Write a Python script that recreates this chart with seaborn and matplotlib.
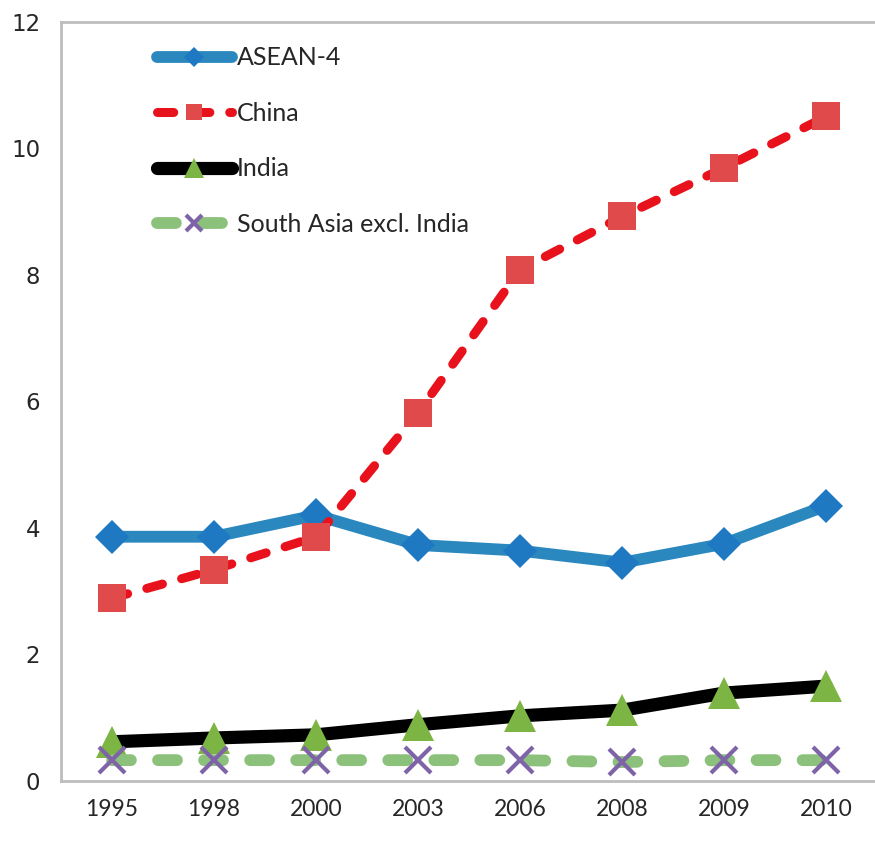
import matplotlib
matplotlib.use("Agg")
import matplotlib.pyplot as plt
import seaborn as sns
import pandas as pd
from matplotlib.legend_handler import HandlerTuple

# -----------------------------------
# Data
# -----------------------------------
years = ["1995", "1998", "2000", "2003", "2006", "2008", "2009", "2010"]
asean4 = [3.86, 3.86, 4.20, 3.73, 3.64, 3.45, 3.75, 4.35]
china = [2.89, 3.34, 3.86, 5.82, 8.08, 8.92, 9.69, 10.50]
india = [0.62, 0.68, 0.73, 0.89, 1.03, 1.12, 1.39, 1.50]
south_asia = [0.33, 0.33, 0.33, 0.33, 0.33, 0.30, 0.33, 0.33]
y_ticks = [0, 2, 4, 6, 8, 10, 12]

sns.set_style("white")
plt.rcParams["font.family"] = ["Lato", "DejaVu Sans"]

fig = plt.figure(figsize=(8.75, 8.42), dpi=100)
ax = fig.add_axes([0.0697, 0.0724, 0.933, 0.902])

df = pd.DataFrame({"year": years, "ASEAN-4": asean4, "China": china,
                   "India": india, "South Asia excl. India": south_asia})

# name, line colour, line style, line width, marker, marker face, marker edge, marker size, edge width
series = [
    ("ASEAN-4", "#2a88bf", "-", 8.5, "D", "#1f78c2", "#1f78c2", 17, 0),
    ("China", "#e8121c", (0, (1.8, 2.2)), 6.5, "s", "#e04a4a", "#e04a4a", 20, 0),
    ("India", "#000000", "-", 9.5, "^", "#7db544", "#7db544", 23, 0),
    ("South Asia excl. India", "#8cc17b", (0, (1.6, 2.3)), 8.5, "x", "#7e63a8", "#7e63a8", 19, 3),
]

handles = []
for name, lc, ls, lw, mk, mfc, mec, ms, mew in series:
    sns.lineplot(data=df, x="year", y=name, color=lc, linewidth=lw,
                 linestyle=ls, dash_capstyle="round", solid_capstyle="round",
                 solid_joinstyle="round", sort=False, ax=ax)
    line = ax.lines[-1]
    sns.lineplot(data=df, x="year", y=name, linestyle="", marker=mk,
                 markersize=ms, markerfacecolor=mfc, markeredgecolor=mec,
                 markeredgewidth=mew, sort=False, ax=ax)
    mark = ax.lines[-1]
    handles.append((line, mark))

ax.set_xlim(-0.5, len(years) - 0.5)
ax.set_ylim(0, 12)
ax.set_yticks(y_ticks)
ax.set_xlabel("")
ax.set_ylabel("")

# axis frame like the spreadsheet chart
for side in ["left", "bottom", "top"]:
    ax.spines[side].set_color("#bdbdbd")
    ax.spines[side].set_linewidth(2)
ax.spines["right"].set_visible(False)

ax.set_xticks([i + 0.5 for i in range(len(years) - 1)], minor=True)
ax.tick_params(axis="x", which="major", length=0, pad=13, labelsize=16.5)
ax.tick_params(axis="x", which="minor", direction="in", length=6, width=1.5, color="#bdbdbd")
ax.tick_params(axis="y", direction="in", length=6, width=1.5, color="#bdbdbd",
               labelsize=16.5, pad=15)
for lab in ax.get_yticklabels():
    lab.set_family("DejaVu Sans")

leg = ax.legend(handles, [s[0] for s in series],
                handler_map={tuple: HandlerTuple(ndivide=1)},
                loc="upper left", bbox_to_anchor=(0.09, 0.997),
                frameon=False, fontsize=18, handlelength=3.0,
                handletextpad=0.2, labelspacing=1.3, markerscale=0.6)

fig.savefig("out.png", dpi=100)
